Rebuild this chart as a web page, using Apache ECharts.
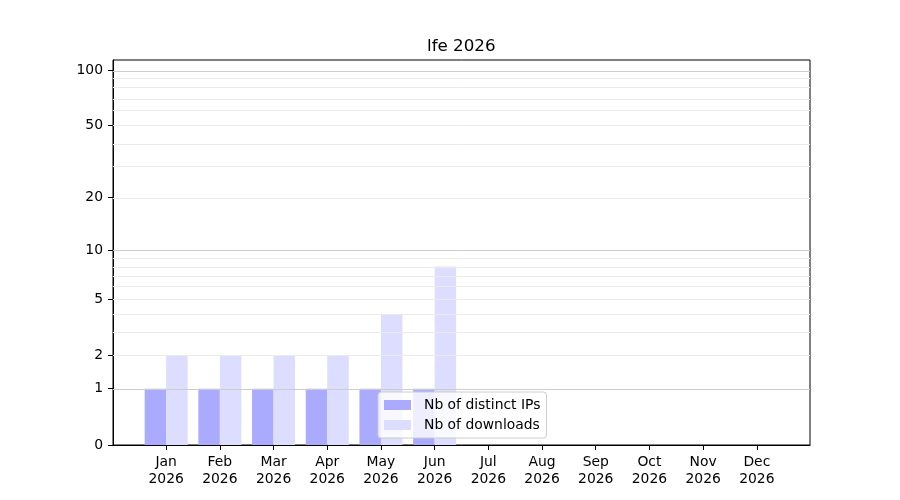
<!DOCTYPE html>
<html>
<head>
<meta charset="utf-8">
<script src="https://cdn.jsdelivr.net/npm/echarts@6/dist/echarts.min.js"></script>
<style>html,body{margin:0;padding:0;background:#fff;}#c{width:900px;height:500px;}</style>
</head>
<body>
<div id="c"></div>
<script>
var months = ['Jan','Feb','Mar','Apr','May','Jun','Jul','Aug','Sep','Oct','Nov','Dec'];
var years = ['2026','2026','2026','2026','2026','2026','2026','2026','2026','2026','2026','2026'];
var distinctIPs = [1,1,1,1,1,1,0,0,0,0,0,0];
var downloads = [2,2,2,2,4,8,0,0,0,0,0,0];
var yTickLabels = [0,1,2,5,10,20,50,100];
var majorGrid = [1,10,100];
var minorGrid = [2,3,4,5,6,7,8,9,20,30,40,50,60,70,80,90];
var yTop = 113.2;

function t(v){ return Math.log10(1 + v); }
var FONT = 'DejaVu Sans';
var FS = 13.9;

var chart = echarts.init(document.getElementById('c'));
var xIdx = months.map(function(m,i){return i;});
var gridLines = minorGrid.map(function(v){return {yAxis:t(v), lineStyle:{color:'#ebebeb'}};})
  .concat(majorGrid.map(function(v){return {yAxis:t(v), lineStyle:{color:'#cccccc'}};}));

chart.setOption({
  animation:false,
  backgroundColor:'#fff',
  title:{text:'lfe 2026', left:427, top:38, padding:0,
    textStyle:{fontFamily:FONT, fontSize:16.7, fontWeight:'normal', color:'#000'}},
  grid:{left:113, right:90, top:60, bottom:55, show:true, borderColor:'#000', borderWidth:1, backgroundColor:'transparent'},
  legend:{
    data:['Nb of distinct IPs','Nb of downloads'],
    orient:'vertical', left:378, top:392,
    backgroundColor:'rgba(255,255,255,0.8)', borderColor:'#cccccc', borderWidth:1, borderRadius:3,
    padding:[5,6,5,6], itemWidth:27, itemHeight:10, itemGap:4, icon:'rect',
    textStyle:{fontFamily:FONT, fontSize:FS, color:'#000', lineHeight:16, padding:[0,0,0,8]}
  },
  xAxis:{
    type:'value', min:-0.99, max:11.99,
    axisLine:{onZero:false, lineStyle:{color:'#000', width:1}},
    axisTick:{show:true, length:5, lineStyle:{color:'#000'}, customValues:xIdx},
    axisLabel:{customValues:xIdx, margin:9, fontFamily:FONT, fontSize:FS, color:'#000', lineHeight:16.7,
      formatter:function(v){var i=Math.round(v); return months[i]+'\n'+years[i];}},
    splitLine:{show:false}
  },
  yAxis:{
    type:'value', min:0, max:t(yTop),
    axisLine:{show:true, onZero:false, lineStyle:{color:'#000', width:1}},
    axisTick:{show:true, length:5, lineStyle:{color:'#000'}, customValues:yTickLabels.map(t)},
    axisLabel:{customValues:yTickLabels.map(t), margin:10, fontFamily:FONT, fontSize:FS, color:'#000',
      verticalAlign:'middle',
      formatter:function(v){return String(Math.round(Math.pow(10,v)-1));}},
    splitLine:{show:false}
  },
  series:[
    {name:'Nb of distinct IPs', type:'bar', barWidth:21.5, barGap:'0%',
     itemStyle:{color:'#aaaaff'},
     data:distinctIPs.map(function(v,i){return [i,t(v)];})},
    {name:'Nb of downloads', type:'bar', barWidth:21.5, barGap:'0%',
     itemStyle:{color:'#ddddff'},
     data:downloads.map(function(v,i){return [i,t(v)];})},
    {name:'grid', type:'line', data:[], silent:true, z:3,
     markLine:{silent:true, symbol:['none','none'], label:{show:false}, animation:false,
       lineStyle:{type:'solid', width:1}, data:gridLines}}
  ]
});
</script>
</body>
</html>
